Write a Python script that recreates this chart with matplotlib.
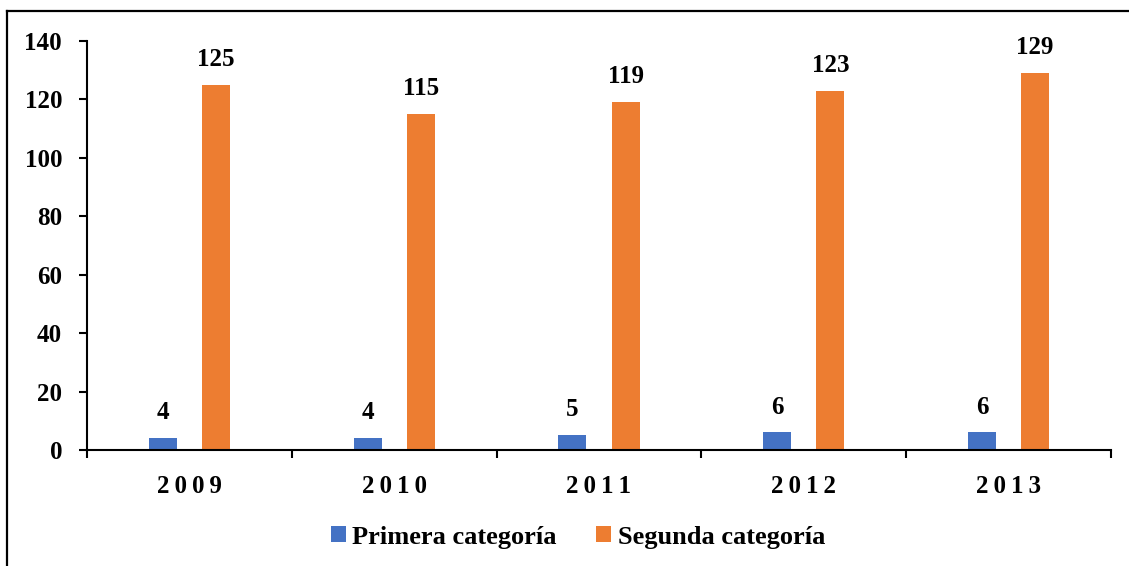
import matplotlib.pyplot as plt
import numpy as np
from matplotlib.lines import Line2D

years = ['2009', '2010', '2011', '2012', '2013']
primera = [4, 4, 5, 6, 6]
segunda = [125, 115, 119, 123, 129]

plt.rcParams['font.family'] = ['Liberation Serif', 'DejaVu Serif']
plt.rcParams['font.weight'] = 'bold'

fig = plt.figure(figsize=(11.29, 5.66), dpi=100)
ax = fig.add_axes([0.0771, 0.205, 0.9069, 0.7226])

x = np.arange(len(years))
w = 0.137
off = 0.13
b1 = ax.bar(x - off, primera, w, color='#4472C4', label='Primera categoría')
b2 = ax.bar(x + off, segunda, w, color='#ED7D31', label='Segunda categoría')
ax.bar_label(b1, padding=10, fontsize=18, fontweight='bold')
ax.bar_label(b2, padding=10, fontsize=18, fontweight='bold')

ax.set_xlim(-0.5, len(years) - 0.5)
ax.set_ylim(0, 140)
ax.set_yticks(range(0, 141, 20))

# year labels at bar-group centres, tick marks at the group boundaries
ax.set_xticks(x)
ax.set_xticklabels(['\u2009'.join(y) for y in years], fontsize=18, fontweight='bold')
ax.set_xticks(np.arange(-0.5, len(years)), minor=True)
ax.tick_params(axis='x', which='major', length=0, pad=18)
ax.tick_params(axis='x', which='minor', length=6, width=1.5, direction='out')
ax.tick_params(axis='y', length=6, width=1.5, pad=12, labelsize=18)
for t in ax.get_yticklabels():
    t.set_fontweight('bold')

for s in ['top', 'right']:
    ax.spines[s].set_visible(False)
ax.spines['left'].set_linewidth(1.5)
ax.spines['bottom'].set_linewidth(1.5)

fig.legend(handles=[b1, b2], loc='center', bbox_to_anchor=(0.512, 0.051), ncol=2,
           frameon=False, handlelength=0.55, handleheight=0.55, handletextpad=0.25,
           columnspacing=1.5, prop={'size': 19, 'weight': 'bold'})

# outer frame (only left and top edges fall inside the image)
fig.add_artist(Line2D([0.0062, 0.0062], [0.0, 0.9805], transform=fig.transFigure,
                      color='black', lw=1.6))
fig.add_artist(Line2D([0.0062, 1.0], [0.9805, 0.9805], transform=fig.transFigure,
                      color='black', lw=1.6))

fig.savefig('out.png', dpi=100, facecolor='white')
